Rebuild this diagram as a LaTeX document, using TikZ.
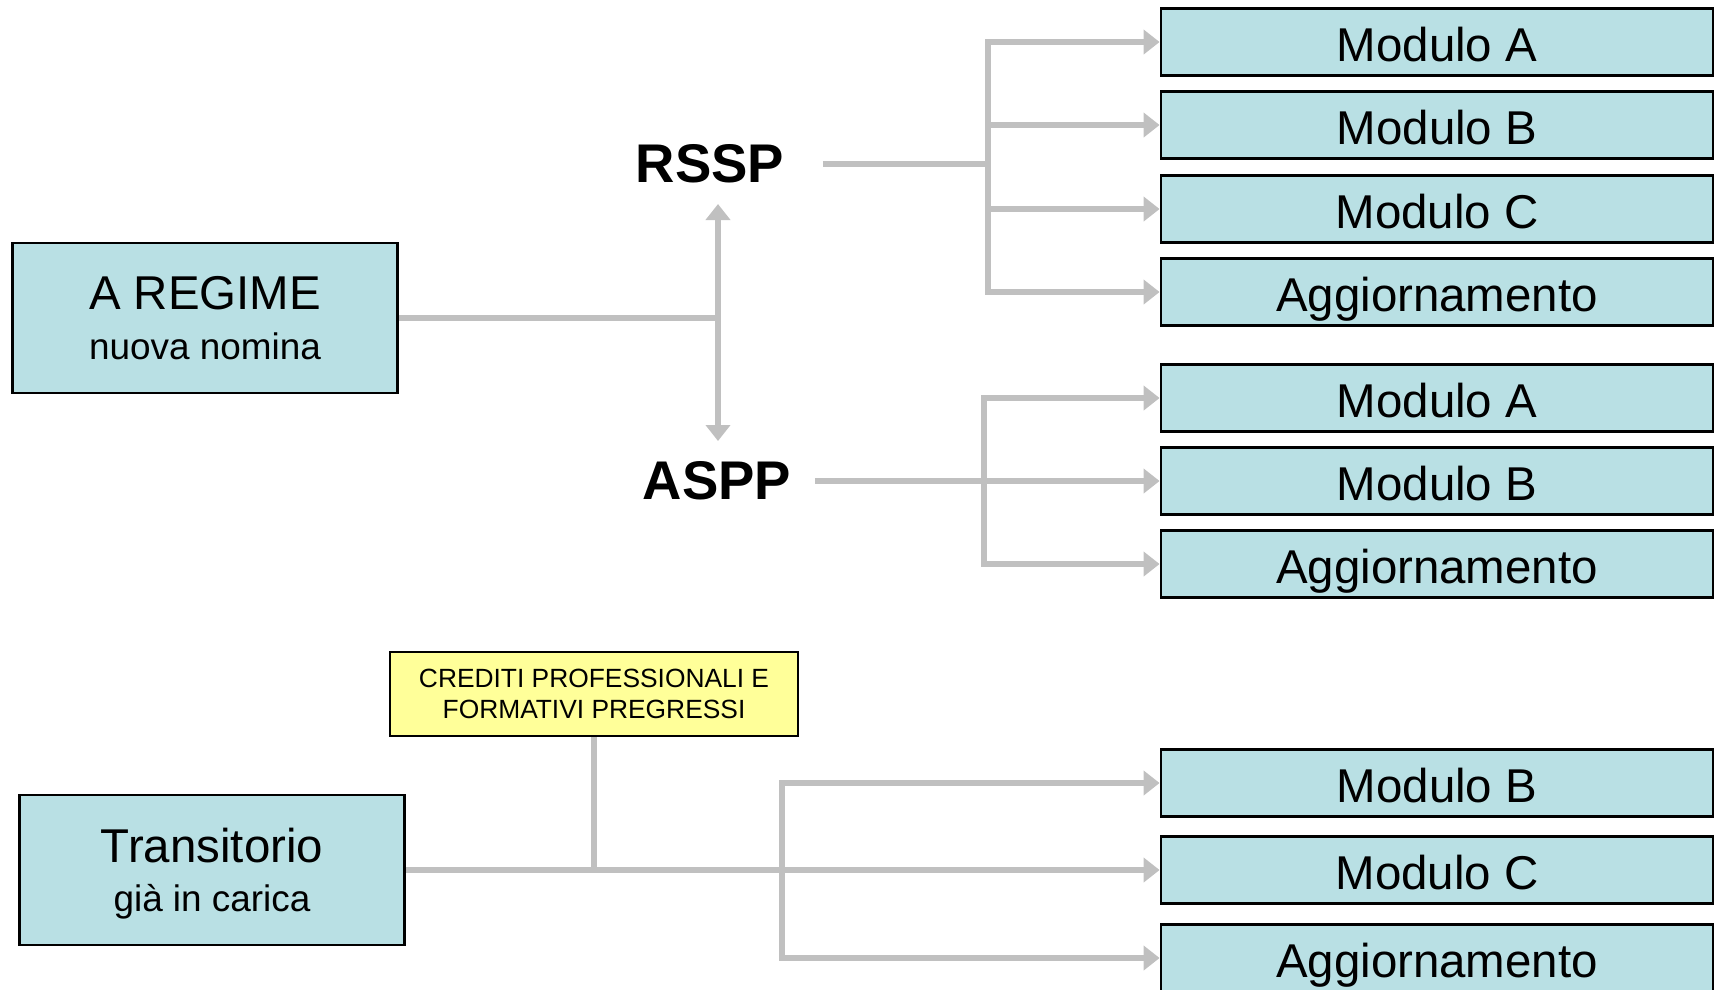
\documentclass[tikz,border=0pt]{standalone}
\usepackage{fontspec}
\setmainfont{Liberation Sans}
\definecolor{boxcyan}{RGB}{185, 224, 228}
\definecolor{linegray}{RGB}{192, 192, 192}
\definecolor{notelemon}{RGB}{255, 255, 153}
\usetikzlibrary{arrows.meta, positioning, calc}

\tikzset{
  modbox/.style={draw, line width=0.8pt, fill=boxcyan, minimum width=5.52cm, minimum height=0.67cm, inner sep=0pt, text height=0.44cm, text depth=0.06cm, font=\fontsize{13.5}{16}\selectfont},
  mainbox/.style={draw, line width=0.8pt, fill=boxcyan, minimum width=3.85cm, minimum height=1.5cm, align=center, font=\fontsize{13.5}{14}\selectfont},
  rolelabel/.style={font=\fontsize{15.5}{18}\selectfont\bfseries, inner sep=0.2cm},
  flow/.style={draw=linegray, line width=1.8pt},
  flowarrow/.style={flow, -{Triangle[length=1.6mm, width=2.4mm]}},
}

\begin{document}
\begin{tikzpicture}
  \useasboundingbox (0, 0) rectangle (17.17, -9.89);

  % Starting situations
  \node[mainbox] (regime) at (2.05, -3.18) {A REGIME\\{\fontsize{10.5}{14}\selectfont nuova nomina}};
  \node[mainbox] (trans) at (2.12, -8.70) {Transitorio\\{\fontsize{10.5}{14}\selectfont \smash{già in carica}}};

  % Roles
  \node[rolelabel] (rssp) at (7.10, -1.64) {RSSP};
  \node[rolelabel] (aspp) at (7.17, -4.81) {ASPP};

  % Credits note
  \node[draw, line width=0.8pt, fill=notelemon, minimum width=4.08cm, minimum height=0.84cm, align=center, font=\fontsize{7.5}{9}\selectfont] (cred) at (5.94, -6.94) {CREDITI PROFESSIONALI E\\FORMATIVI PREGRESSI};

  % Modules for RSSP
  \node[modbox] (ra) at (14.37, -0.42) {Modulo A};
  \node[modbox] (rb) at (14.37, -1.25) {Modulo B};
  \node[modbox] (rc) at (14.37, -2.09) {Modulo C};
  \node[modbox] (rg) at (14.37, -2.92) {Aggiornamento};

  % Modules for ASPP
  \node[modbox] (aa) at (14.37, -3.98) {Modulo A};
  \node[modbox] (ab) at (14.37, -4.81) {Modulo B};
  \node[modbox] (ag) at (14.37, -5.64) {Aggiornamento};

  % Modules for transitional phase
  \node[modbox] (tb) at (14.37, -7.83) {Modulo B};
  \node[modbox] (tc) at (14.37, -8.70) {Modulo C};
  \node[modbox] (tg) at (14.37, -9.58) {Aggiornamento};

  % Connectors
  \coordinate (split) at (7.18, -3.18);
  \draw[flow] (regime.east) -- (split);
  \draw[flowarrow] (split) -- (split |- rssp.south);
  \draw[flowarrow] (split) -- (split |- aspp.north);

  \coordinate (rbar) at (9.88, -1.64);
  \draw[flow, shorten <=0.18cm] (rssp.east) -- (rbar);
  \draw[flowarrow] (rbar) |- (ra.west);
  \draw[flowarrow] (rbar) |- (rb.west);
  \draw[flowarrow] (rbar) |- (rc.west);
  \draw[flowarrow] (rbar) |- (rg.west);

  \coordinate (abar) at (9.84, -4.81);
  \draw[flowarrow, shorten <=0.03cm] (aspp.east) -- (ab.west);
  \draw[flowarrow] (abar) |- (aa.west);
  \draw[flowarrow] (abar) |- (ag.west);

  \coordinate (tbar) at (7.82, -8.70);
  \draw[flowarrow] (trans.east) -- (tc.west);
  \draw[flow] (cred.south) -- (cred.south |- trans.east);
  \draw[flowarrow] (tbar) |- (tb.west);
  \draw[flowarrow] (tbar) |- (tg.west);
\end{tikzpicture}
\end{document}
